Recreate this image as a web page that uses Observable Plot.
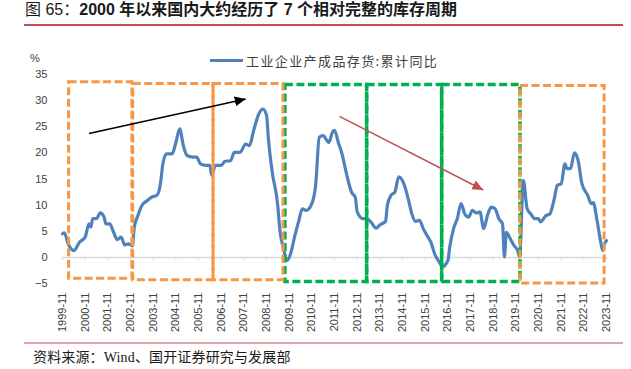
<!DOCTYPE html>
<html><head><meta charset="utf-8">
<script src="https://cdn.jsdelivr.net/npm/d3@7"></script>
<script src="https://cdn.jsdelivr.net/npm/@observablehq/plot@0.6"></script>
<style>
body{margin:0;background:#fff;}
#wrap{position:relative;width:631px;height:369px;overflow:hidden;background:#fff;}
#title{position:absolute;left:25px;top:0px;font-size:16px;color:#1a1a1a;white-space:nowrap;font-family:"Liberation Sans","Noto Sans CJK SC",sans-serif;line-height:20px;}
#title .n{font-weight:normal;}
#title .b{font-weight:bold;}
#rule1{position:absolute;left:24px;top:24px;width:599px;height:1.5px;background:#c0504d;}
#pct{position:absolute;left:30px;top:52px;font-size:11px;color:#404040;font-family:"Liberation Sans",Arial,sans-serif;}
#legend{position:absolute;left:210px;top:51px;height:18px;display:flex;align-items:center;font-family:"Noto Sans CJK SC",sans-serif;font-size:13px;letter-spacing:1.4px;color:#404040;white-space:nowrap;}
#legend .sw{display:inline-block;width:33px;height:3px;background:#4f81bd;margin-right:3px;}
#chart{position:absolute;left:0;top:36px;}
#rule2{position:absolute;left:24px;top:342px;width:599px;height:1.5px;background:#e3a3a6;}
#caption{position:absolute;left:33px;top:346px;font-size:14px;letter-spacing:0.15px;color:#1a1a1a;white-space:nowrap;font-family:"Liberation Serif","Noto Sans CJK SC",serif;}
</style></head>
<body><div id="wrap">
<div id="title"><span class="n">图 65：</span><span class="b">2000 年以来国内大约经历了 7 个相对完整的库存周期</span></div>
<div id="rule1"></div>
<div id="pct">%</div>
<div id="legend"><span class="sw"></span><span id="legtext">工业企业产成品存货:累计同比</span></div>
<div id="chart"></div>
<div id="rule2"></div>
<div id="caption">资料来源：Wind、国开证券研究与发展部</div>
</div>
<script>
// Series: 工业企业产成品存货:累计同比 (%)
const months = ["1999-11","1999-12","2000-02","2000-05","2000-08","2000-11","2001-01","2001-02","2001-03","2001-05","2001-07","2001-09","2001-10","2001-12","2002-02","2002-04","2002-06","2002-08","2002-10","2002-12","2003-01","2003-03","2003-05","2003-08","2003-10","2004-01","2004-03","2004-04","2004-06","2004-09","2004-11","2005-01","2005-03","2005-05","2005-08","2005-10","2005-12","2006-03","2006-05","2006-06","2006-08","2006-11","2007-01","2007-04","2007-06","2007-09","2007-12","2008-02","2008-04","2008-07","2008-09","2008-11","2008-12","2009-02","2009-05","2009-06","2009-08","2009-10","2009-12","2010-02","2010-04","2010-06","2010-08","2010-11","2011-01","2011-03","2011-05","2011-08","2011-10","2011-11","2012-01","2012-03","2012-05","2012-06","2012-08","2012-10","2012-11","2013-02","2013-04","2013-06","2013-09","2013-11","2014-02","2014-03","2014-05","2014-07","2014-09","2014-12","2015-02","2015-04","2015-06","2015-08","2015-10","2015-12","2016-02","2016-04","2016-07","2016-08","2016-11","2016-12","2017-02","2017-04","2017-06","2017-08","2017-10","2017-12","2018-02","2018-04","2018-06","2018-08","2018-10","2018-12","2019-02","2019-04","2019-05","2019-06","2019-08","2019-10","2019-12","2020-01","2020-03","2020-05","2020-07","2020-09","2020-11","2020-12","2021-03","2021-05","2021-07","2021-09","2021-11","2022-01","2022-02","2022-04","2022-06","2022-08","2022-10","2023-01","2023-03","2023-04","2023-06","2023-08","2023-09","2023-10","2023-11"];
const values = [4.5,4.7,2.6,1.3,2.9,3.9,6.4,5.8,7.4,7.4,8.5,7.7,6.4,6.4,4.8,3.4,3.9,2.4,2.6,2.2,5.8,8.0,9.9,10.9,11.5,11.9,14.4,17.6,19.8,19.8,22.0,24.6,21.4,19.5,19.2,19.2,17.9,17.6,17.6,15.7,17.6,17.6,18.4,18.5,20.1,20.1,21.7,21.4,24.0,27.5,28.4,27.2,22.7,16.3,9.9,5.5,1.7,-0.6,1.0,4.2,6.8,9.3,9.0,10.3,13.8,23.0,23.3,22.0,24.0,24.3,22.0,19.8,16.6,15.0,12.5,11.5,8.7,7.4,7.4,6.9,5.6,6.2,6.9,9.9,11.9,12.5,15.4,13.8,11.2,8.3,6.9,7.1,5.5,4.2,2.9,0.7,-1.2,-1.8,-0.6,2.0,5.5,7.4,10.3,8.3,7.7,9.0,8.5,8.7,5.5,8.0,9.6,9.3,7.4,6.4,0.1,4.8,3.6,2.3,1.3,0.1,14.7,9.3,8.3,7.4,7.4,6.8,8.0,8.3,10.6,13.8,14.1,17.9,17.0,17.0,20.0,18.5,14.1,11.9,10.3,10.5,7.1,2.9,1.3,2.6,3.2];

const xTickLabels = ["1999-11","2000-11","2001-11","2002-11","2003-11","2004-11","2005-11","2006-11","2007-11","2008-11","2009-11","2010-11","2011-11","2012-11","2013-11","2014-11","2015-11","2016-11","2017-11","2018-11","2019-11","2020-11","2021-11","2022-11","2023-11"];
const yTicks = [-5,0,5,10,15,20,25,30,35];

// Inventory-cycle boxes (start, end, top, bottom)
const orangeStart = ["2000-02-15","2002-12-15","2006-07-01","2020-01-15"];
const orangeEnd   = ["2002-12-01","2006-07-01","2009-08-01","2023-10-01"];
const orangeTop   = [33.5,33.2,33.2,32.8];
const orangeBot   = [-4.1,-4.4,-4.4,-5.0];
const greenStart  = ["2009-09-01","2013-04-10","2016-08-01"];
const greenEnd    = ["2013-04-10","2016-08-01","2020-01-15"];
const greenTop    = [33.0,33.0,33.0];
const greenBot    = [-4.7,-4.7,-4.7];

// Trend arrows (from date, from value, to date, to value)
const blackArrow = ["2001-01-01",23.7,"2007-12-01",30.3];
const redArrow   = ["2012-01-20",27.0,"2018-05-25",12.9];

const parseM = d3.utcParse("%Y-%m");
const parseD = d3.utcParse("%Y-%m-%d");
const series = months.map((m,i)=>({date:parseM(m), value:values[i]}));
const tickDates = xTickLabels.map(parseM);
const orangeBoxes = orangeStart.map((s,i)=>({x1:parseD(s),x2:parseD(orangeEnd[i]),y1:orangeBot[i],y2:orangeTop[i]}));
const greenBoxes = greenStart.map((s,i)=>({x1:parseD(s),x2:parseD(greenEnd[i]),y1:greenBot[i],y2:greenTop[i]}));
const arrowRow = a => ({x1:parseD(a[0]),y1:a[1],x2:parseD(a[2]),y2:a[3]});

const tri = (color) => {
  const m = d3.create("svg:marker")
    .attr("viewBox","-10 -5 10 10")
    .attr("markerWidth",11).attr("markerHeight",11)
    .attr("markerUnits","userSpaceOnUse")
    .attr("orient","auto")
    .attr("refX",0).attr("refY",0)
    .attr("fill",color).attr("stroke","none");
  m.append("path").attr("d","M-10,-4.5L0,0L-10,4.5Z");
  return m.node();
};

const chart = Plot.plot({
  width: 631, height: 300,
  marginLeft: 62, marginRight: 25, marginTop: 38, marginBottom: 53,
  style: {fontFamily: "'Liberation Sans', Arial, sans-serif", fontSize: "11px", color: "#404040", background: "transparent"},
  x: {type: "utc", domain: [tickDates[0], tickDates[tickDates.length-1]]},
  y: {domain: [-5, 35]},
  marks: [
    Plot.ruleY([0], {stroke: "#d9d9d9", strokeWidth: 1.5}),
    Plot.ruleX(tickDates, {y1: 0, y2: -0.6, stroke: "#d9d9d9", strokeWidth: 1}),
    Plot.axisY({ticks: yTicks, tickSize: 0, tickPadding: 15, label: null, fontSize: 11}),
    Plot.axisX({ticks: tickDates, tickSize: 0, tickPadding: 9, tickRotate: -90, tickFormat: d3.utcFormat("%Y-%m"), label: null, fontSize: 11}),
    Plot.line(series, {x: "date", y: "value", stroke: "#4f81bd", strokeWidth: 3.2, curve: "monotone-x", strokeLinejoin: "round"}),
    Plot.rect(greenBoxes, {x1: "x1", x2: "x2", y1: "y1", y2: "y2", fill: "none", stroke: "#00b050", strokeWidth: 3.5, strokeDasharray: "8,3.5"}),
    Plot.rect(orangeBoxes, {x1: "x1", x2: "x2", y1: "y1", y2: "y2", fill: "none", stroke: "#f79646", strokeWidth: 3, strokeDasharray: "8,3.5"}),
    Plot.link([arrowRow(blackArrow)], {x1: "x1", y1: "y1", x2: "x2", y2: "y2", stroke: "#000", strokeWidth: 1.5, markerEnd: tri}),
    Plot.link([arrowRow(redArrow)], {x1: "x1", y1: "y1", x2: "x2", y2: "y2", stroke: "#c0504d", strokeWidth: 1.5, markerEnd: tri})
  ]
});
document.getElementById("chart").appendChild(chart);
</script>
</body></html>
